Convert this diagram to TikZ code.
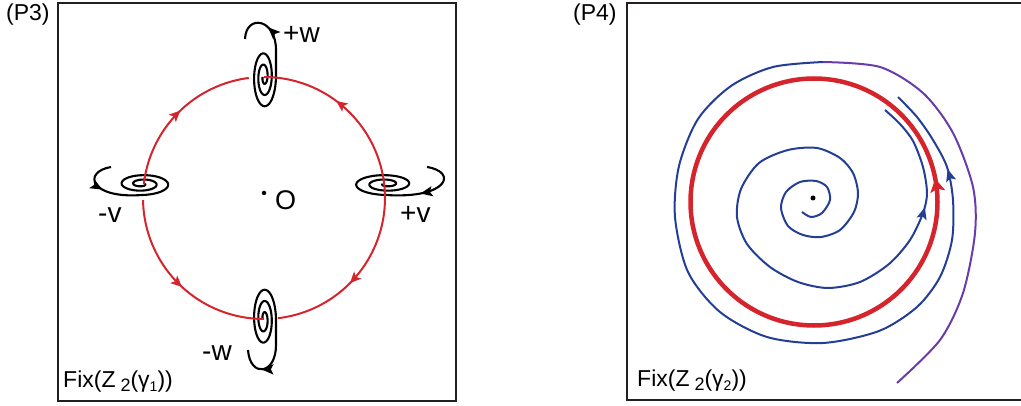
\documentclass[tikz,border=0pt]{standalone}
\usepackage{fontspec}
\setmainfont{Liberation Sans}
\usetikzlibrary{arrows.meta,decorations.markings}
\definecolor{BoxLine}  {RGB}{35,31,32}
\definecolor{CycRed}   {RGB}{214,36,44}
\definecolor{OrbBlue}  {RGB}{36,62,150}
\definecolor{OrbPurple}{RGB}{104,60,170}
\tikzset{
  panelbox/.style={draw=BoxLine,line width=2.8pt},
  eqspiral/.style={draw=black,line width=2.1pt},
  hetline/.style={draw=CycRed,line width=2pt},
  orbit/.style={draw=OrbBlue,line width=2pt},
  limcyc/.style={draw=CycRed,line width=4.5pt},
  tip_s/.style={>={Stealth[length=11pt,width=10pt,inset=2.5pt]}},
  tip_m/.style={>={Stealth[length=12pt,width=10pt,inset=2.5pt]}},
  tip_l/.style={>={Stealth[length=13pt,width=15pt,inset=3pt]}},
  midarr/.style={postaction={decorate},decoration={markings,mark=at position #1 with {\arrow{>}}}},
  lbl/.style={font=\fontsize{23}{26}\selectfont,anchor=base west,inner sep=0pt},
  eqlbl/.style={font=\fontsize{28}{30}\selectfont,anchor=base west,inner sep=0pt},
}

\begin{document}
\begin{tikzpicture}[x=1pt,y=-1pt]

\useasboundingbox (0,0) rectangle (1021,406);

% panels
\draw[panelbox] (58,3) rectangle (456,401);
\draw[panelbox] (1030,3) -- (627,3) -- (627,400) -- (1030,400);
\node[lbl] (tagL) at (6,21)   {(P3)};
\node[lbl] (tagR) at (573,21) {(P4)};
\node[lbl] (fixL) at (63,388)  {Fix(Z\hspace{5pt}\raisebox{-4pt}{\fontsize{18}{18}\selectfont 2}(γ\raisebox{-4pt}{\fontsize{14}{14}\selectfont 1}))};
\node[lbl] (fixR) at (637,386) {Fix(Z\hspace{5pt}\raisebox{-4pt}{\fontsize{18}{18}\selectfont 2}(γ\raisebox{-4pt}{\fontsize{14}{14}\selectfont 2}))};

% LEFT: equilibria +w, -w, -v, +v
\draw[eqspiral] plot[domain=180:1080,samples=220] ({264+12*((\x-60)/1020)*cos(\x)},{77-32*((\x-60)/1020)*sin(\x)});
\draw[eqspiral,tip_m,midarr=0.6] (276,77) -- (276,50) .. controls (276,18) and (246,14) .. (245,39);
\draw[eqspiral] plot[domain=180:1080,samples=220] ({264+12*((\x-60)/1020)*cos(\x)},{319+32*((\x-60)/1020)*sin(\x)});
\draw[eqspiral,tip_m,midarr=0.69] (276,319) -- (276,345) .. controls (276,375) and (250,378) .. (248,350);
\draw[eqspiral] plot[domain=0:810,samples=200] ({142+29*((\x+90)/900)*cos(\x)},{184+11*((\x+90)/900)*sin(\x)});
\draw[eqspiral,tip_m,midarr=0.47] (111,167) .. controls (82,172) and (90,199) .. (142,195);
\draw[eqspiral] plot[domain=0:810,samples=200] ({386-33*((\x+90)/900)*cos(\x)},{184+11*((\x+90)/900)*sin(\x)});
\draw[eqspiral,tip_m,midarr=0.6] (427,167) .. controls (458,172) and (448,199) .. (386,195);

% heteroclinic arcs
\draw[hetline,tip_s,midarr=0.52] plot[domain=0:1,samples=50] ({264+121*cos(173.4-76.2*\x)},{198-121*sin(173.4-76.2*\x)});
\draw[hetline,tip_s,midarr=0.56] plot[domain=0:1,samples=50] ({264+121*cos(6.6+83.4*\x)},{198-121*sin(6.6+83.4*\x)});
\draw[hetline,tip_s,midarr=0.57] plot[domain=0:1,samples=50] ({264+121*cos(6.6-90*\x)},{198-121*sin(6.6-90*\x)});
\draw[hetline,tip_s,midarr=0.52] plot[domain=0:1,samples=50] ({264+121*cos(181+89*\x)},{198-121*sin(181+89*\x)});

\node[circle,fill=black,inner sep=0pt,minimum size=4.5pt] (dotO) at (264,193) {};
\node[font=\fontsize{27}{30}\selectfont,anchor=base west,inner sep=0pt] (lblO) at (275,210) {O};
\node[eqlbl] (lwp) at (283,43)  {+w};
\node[eqlbl] (lvm) at (98,223)  {-v};
\node[eqlbl] (lvp) at (400,223) {+v};
\node[eqlbl] (lwm) at (202,360) {-w};

% RIGHT: spiral orbits and limit cycle
\draw[orbit,tip_m,midarr=0.86] plot[smooth] coordinates {(802,212) (811,217) (822,213) (830,200) (827,187) (816,181) (800,182) (786,192) (781,208) (788,226) (803,235) (821,237) (840,230) (854,212) (858,193) (853,173) (840,158) (817,148) (788,150) (759,163) (741,189) (737,217) (747,244) (770,267) (798,282) (828,288) (860,282) (889,264) (910,240) (923,213) (927,193) (923,167) (913,141) (900,124) (885,110)};
\draw[orbit,tip_m,midarr=0.89] plot[smooth] coordinates {(823,62) (773,67) (731,86) (698,119) (679,166) (675,217) (688,272) (720,312) (767,337) (823,343) (879,331) (917,307) (940,277) (952,240) (953,200) (947,167) (933,140) (917,117) (898,97)};
\draw[orbit,draw=OrbPurple] plot[smooth] coordinates {(897,383) (940,340) (963,293) (975,233) (973,187) (953,133) (923,93) (880,67) (823,62)};
\draw[limcyc,tip_l,midarr=0.28] plot[domain=-90:270,samples=181] ({814+123.5*cos(\x)},{202-123.5*sin(\x)}) -- cycle;
\node[circle,fill=black,inner sep=0pt,minimum size=5pt] (dotR) at (813,198) {};

\end{tikzpicture}
\end{document}
